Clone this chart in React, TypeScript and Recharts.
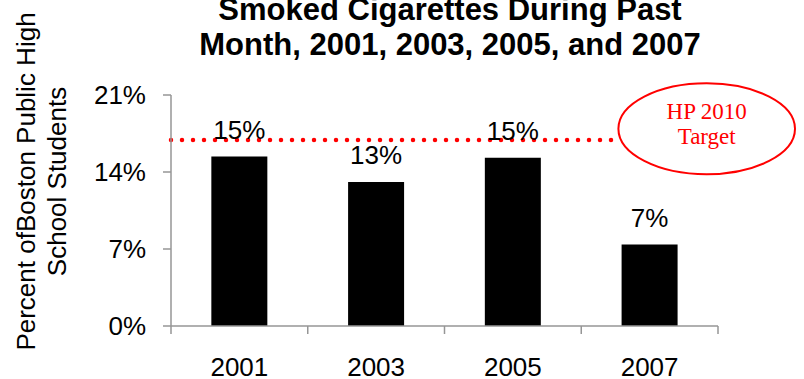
import React from 'react';
import { BarChart, Bar, XAxis, YAxis, ReferenceLine, LabelList, Customized } from 'recharts';

const CATEGORIES = ['2001', '2003', '2005', '2007'];
const SMOKED = [15.4, 13.1, 15.3, 7.4];
const Y_TICKS = [0, 7, 14, 21];
const TARGET = 16.9;
const TARGET_LABEL = ['HP 2010', 'Target'];
const TITLE = ['Smoked Cigarettes During Past', 'Month, 2001, 2003, 2005, and 2007'];
const Y_LABEL = ['Percent ofBoston Public High', 'School Students'];

const data = CATEGORIES.map((year, i) => ({ year, value: SMOKED[i] }));

const SANS = '"Liberation Sans", Arial, sans-serif';
const SERIF = '"Liberation Serif", "Times New Roman", serif';
const AXIS_GRAY = '#969696';
const RED = '#FF0000';

const W = 804;
const H = 379;
const MARGIN = { top: 95, right: 86, bottom: 0, left: 0 };
const Y_AXIS_W = 171;
const X_AXIS_H = 53;
const X_TICK_SIZE = 8;
const X_TICK_MARGIN = 24;

const XTick = (props: any) => {
  const { x, y, payload, index } = props;
  const plotW = W - MARGIN.left - MARGIN.right - Y_AXIS_W;
  const half = payload && typeof payload.offset === 'number' && payload.offset > 0 ? payload.offset : plotW / CATEGORIES.length / 2;
  const axisY = y - X_TICK_SIZE - X_TICK_MARGIN;
  const isLast = index === CATEGORIES.length - 1;
  return (
    <g>
      <line x1={x - half} x2={x - half} y1={axisY} y2={axisY + X_TICK_SIZE} stroke={AXIS_GRAY} strokeWidth={1.5} />
      {isLast && (
        <line x1={x + half} x2={x + half} y1={axisY} y2={axisY + X_TICK_SIZE} stroke={AXIS_GRAY} strokeWidth={1.5} />
      )}
      <text x={x} y={y} dy="0.71em" textAnchor="middle" fontFamily={SANS} fontSize={26} fill="#000">
        {payload.value}
      </text>
    </g>
  );
};

const YTick = (props: any) => {
  const { x, y, payload } = props;
  return (
    <text x={x} y={y} dy={8.5} textAnchor="end" fontFamily={SANS} fontSize={26} fill="#000">
      {`${payload.value}%`}
    </text>
  );
};

const TargetShape = (props: any) => {
  const { x1, y1, x2 } = props;
  const cx = x2 - 11.3;
  const cy = y1 - 11.3;
  const rx = 88.3;
  const ry = 45.5;
  const dy = (y1 - cy) / ry;
  const xEdge = cx - rx * Math.sqrt(Math.max(0, 1 - dy * dy));
  return (
    <g>
      <line
        x1={x1}
        x2={xEdge - 2}
        y1={y1}
        y2={y1}
        stroke={RED}
        strokeWidth={4.5}
        strokeLinecap="round"
        strokeDasharray="0 11"
      />
      <ellipse cx={cx} cy={cy} rx={rx} ry={ry} fill="#fff" stroke={RED} strokeWidth={2} />
      <text x={cx} y={cy - 9.8} textAnchor="middle" fontFamily={SERIF} fontSize={23} fill={RED}>
        {TARGET_LABEL[0]}
      </text>
      <text x={cx} y={cy + 15.5} textAnchor="middle" fontFamily={SERIF} fontSize={23} fill={RED}>
        {TARGET_LABEL[1]}
      </text>
    </g>
  );
};

const Decorations = () => (
  <g>
    <text x={450} y={20} textAnchor="middle" fontFamily={SANS} fontWeight="bold" fontSize={31} fill="#000">
      {TITLE[0]}
    </text>
    <text x={450} y={55} textAnchor="middle" fontFamily={SANS} fontWeight="bold" fontSize={31} fill="#000">
      {TITLE[1]}
    </text>
    <text
      x={34.5}
      y={181.5}
      transform="rotate(-90 34.5 181.5)"
      textAnchor="middle"
      fontFamily={SANS}
      fontSize={26}
      fill="#000"
    >
      {Y_LABEL[0]}
    </text>
    <text
      x={65.5}
      y={181.5}
      transform="rotate(-90 65.5 181.5)"
      textAnchor="middle"
      fontFamily={SANS}
      fontSize={26}
      fill="#000"
    >
      {Y_LABEL[1]}
    </text>
  </g>
);

const ValueLabel = (props: any) => {
  const { x, y, width, value } = props;
  return (
    <text x={x + width / 2} y={y - 18} textAnchor="middle" fontFamily={SANS} fontSize={26} fill="#000">
      {`${Math.round(value)}%`}
    </text>
  );
};

export default function App() {
  return (
    <div style={{ position: 'absolute', left: 0, top: 0, width: W, height: H, background: '#fff' }}>
      <BarChart width={W} height={H} data={data} margin={MARGIN} barCategoryGap="29.5%">
        <XAxis
          dataKey="year"
          height={X_AXIS_H}
          tickLine={false}
          tickSize={X_TICK_SIZE}
          tickMargin={X_TICK_MARGIN}
          axisLine={{ stroke: AXIS_GRAY, strokeWidth: 1.5 }}
          tick={<XTick />}
          interval={0}
        />
        <YAxis
          width={Y_AXIS_W}
          domain={[0, 21]}
          ticks={Y_TICKS}
          interval={0}
          tickSize={8}
          tickMargin={17}
          tickLine={{ stroke: AXIS_GRAY, strokeWidth: 1.5 }}
          axisLine={{ stroke: AXIS_GRAY, strokeWidth: 1.5 }}
          tick={<YTick />}
        />
        <Bar dataKey="value" fill="#000" isAnimationActive={false}>
          <LabelList dataKey="value" content={<ValueLabel />} />
        </Bar>
        <ReferenceLine y={TARGET} shape={<TargetShape />} ifOverflow="visible" />
        <Customized component={<Decorations />} />
      </BarChart>
    </div>
  );
}
